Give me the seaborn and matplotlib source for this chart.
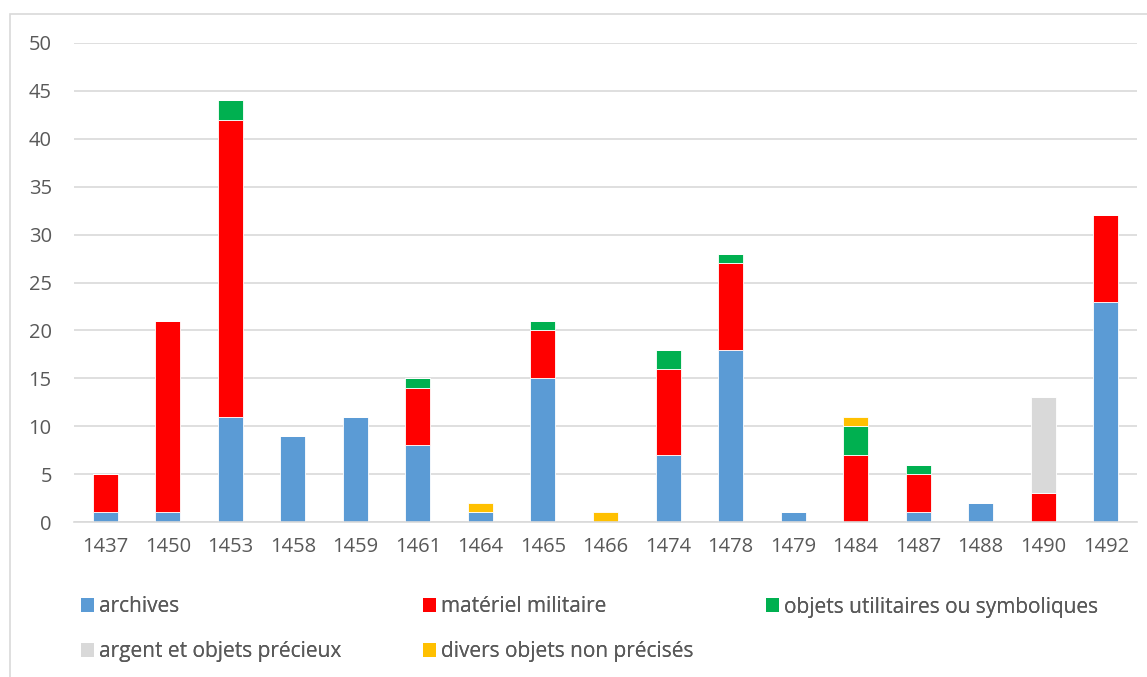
import matplotlib
matplotlib.use("Agg")
import matplotlib.pyplot as plt
import seaborn as sns
import numpy as np
from matplotlib.patches import Rectangle, Patch

years = ["1437", "1450", "1453", "1458", "1459", "1461", "1464", "1465", "1466",
         "1474", "1478", "1479", "1484", "1487", "1488", "1490", "1492"]
archives =    [1, 1, 11, 9, 11, 8, 1, 15, 0, 7, 18, 1, 0, 1, 2, 0, 23]
militaire =   [4, 20, 31, 0, 0, 6, 0, 5, 0, 9, 9, 0, 7, 4, 0, 3, 9]
utilitaires = [0, 0, 2, 0, 0, 1, 0, 1, 0, 2, 1, 0, 3, 1, 0, 0, 0]
argent =      [0, 0, 0, 0, 0, 0, 0, 0, 0, 0, 0, 0, 0, 0, 0, 10, 0]
divers =      [0, 0, 0, 0, 0, 0, 1, 0, 1, 0, 0, 0, 1, 0, 0, 0, 0]

series_names = ["archives", "matériel militaire", "objets utilitaires ou symboliques",
                "argent et objets précieux", "divers objets non précisés"]
series_vals = [archives, militaire, utilitaires, argent, divers]
colors = ["#5B9BD5", "#FF0000", "#00B050", "#D9D9D9", "#FFC000"]

sns.set_theme(style="white")
plt.rcParams["font.family"] = ["Open Sans", "DejaVu Sans"]

W, H = 1147, 677
fig = plt.figure(figsize=(W / 100, H / 100), dpi=100)
ax = fig.add_axes([74 / W, 1 - 522 / H, (1137 - 74) / W, (522 - 43) / H])

bottom = np.zeros(len(years))
for name, vals, col in zip(series_names, series_vals, colors):
    v = np.array(vals, dtype=float)
    sns.barplot(x=years, y=v, bottom=bottom, color=col, width=0.4,
                ax=ax, order=years, edgecolor="white", linewidth=0.6,
                saturation=1, label=name)
    bottom = bottom + v

ax.set_ylim(0, 50)
ax.set_yticks(range(0, 51, 5))
ax.yaxis.grid(True, color="#D9D9D9", linewidth=1.2)
ax.set_axisbelow(True)
for s in ["top", "right", "left"]:
    ax.spines[s].set_visible(False)
ax.spines["bottom"].set_color("#D9D9D9")
ax.spines["bottom"].set_linewidth(1.2)
ax.tick_params(axis="both", length=0, labelsize=14.5, colors="#595959")
ax.tick_params(axis="x", pad=11)
ax.tick_params(axis="y", pad=16)
ax.set_xlabel("")
ax.set_ylabel("")
ax.set_xlim(-0.5, len(years) - 0.5)
if ax.get_legend() is not None:
    ax.get_legend().remove()

# legend entries: (series index, marker left x px, row center y px)
legend_pos = [(0, 81, 607), (1, 423, 607), (2, 766, 607),
              (3, 81, 652), (4, 423, 652)]
for idx, xp, yp in legend_pos:
    leg = fig.legend([Patch(facecolor=colors[idx], edgecolor="none")],
                     [series_names[idx]], loc="center left",
                     bbox_to_anchor=(xp / W, 1 - yp / H), frameon=False,
                     fontsize=15, handlelength=0.62, handleheight=0.62,
                     handletextpad=0.25, borderaxespad=0, borderpad=0)
    for t in leg.get_texts():
        t.set_color("#595959")
    fig.add_artist(leg)

fig.patches.append(Rectangle((10 / W, -0.01), 1.02, 1 - 14 / H + 0.01,
                             transform=fig.transFigure, fill=False,
                             edgecolor="#D9D9D9", linewidth=1.2))

fig.savefig("out.png", dpi=100)
